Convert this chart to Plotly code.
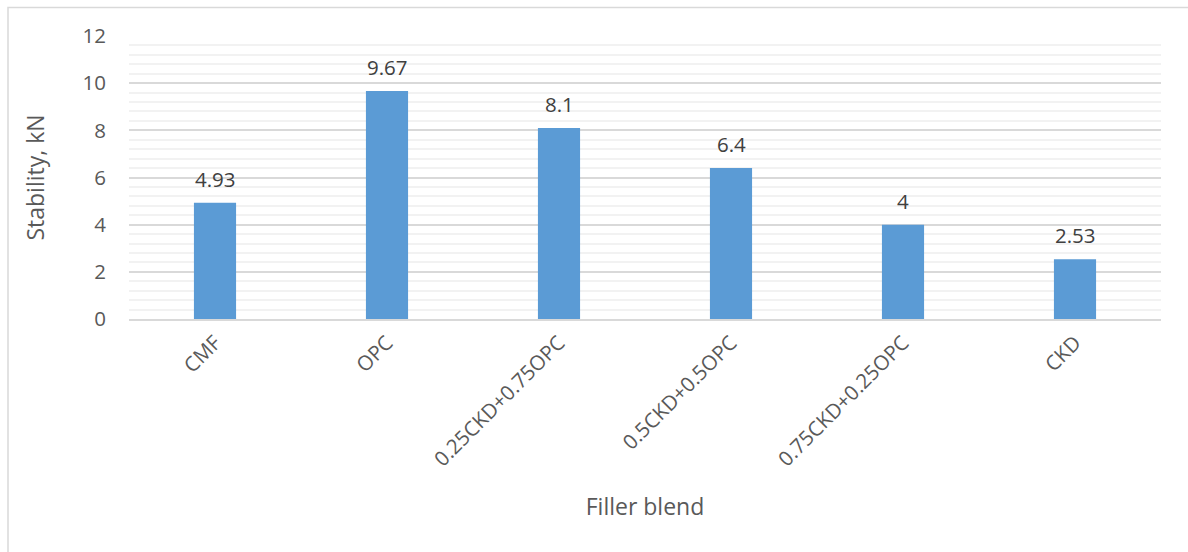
import plotly.graph_objects as go

categories = ["CMF", "OPC", "0.25CKD+0.75OPC", "0.5CKD+0.5OPC", "0.75CKD+0.25OPC", "CKD"]
stability = [4.93, 9.67, 8.1, 6.4, 4, 2.53]
value_labels = ["4.93", "9.67", "8.1", "6.4", "4", "2.53"]

FONT = "Open Sans"
TEXT = "#595959"
SIZE = 20.5
TITLE_SIZE = 23

fig = go.Figure(
    go.Bar(
        x=categories,
        y=stability,
        marker=dict(color="#5B9BD5", line=dict(width=0)),
        width=0.245,
    )
)

# value labels above each bar
for cat, val, lab in zip(categories, stability, value_labels):
    fig.add_annotation(
        x=cat, y=val, text=lab, showarrow=False,
        yanchor="bottom", yshift=8,
        font=dict(family=FONT, size=SIZE, color="#404040"),
    )

fig.update_layout(
    width=1188,
    height=552,
    margin=dict(l=129, r=27, t=36, b=233),
    paper_bgcolor="white",
    plot_bgcolor="white",
    showlegend=False,
    font=dict(family=FONT, color=TEXT),
)

fig.update_xaxes(
    tickangle=-45,
    tickfont=dict(family=FONT, size=SIZE, color=TEXT),
    showgrid=False,
    showline=True,
    linecolor="#D9D9D9",
    linewidth=1.5,
    ticks="",
    ticklabelstandoff=2,
    title=dict(text="Filler blend", font=dict(family=FONT, size=TITLE_SIZE, color=TEXT), standoff=28),
)

fig.update_yaxes(
    range=[0, 12],
    dtick=2,
    tickfont=dict(family=FONT, size=SIZE, color=TEXT),
    showgrid=True,
    gridcolor="#D9D9D9",
    gridwidth=1.5,
    zeroline=False,
    showline=False,
    ticks="",
    ticklabelstandoff=22,
    minor=dict(dtick=0.4, showgrid=True, gridcolor="#F2F2F2", gridwidth=1.5),
    title=dict(text="Stability, kN", font=dict(family=FONT, size=TITLE_SIZE, color=TEXT), standoff=31),
)

# chart frame
fig.add_shape(
    type="rect", xref="paper", yref="paper",
    x0=(8 - 129) / 1032, x1=(1192 - 129) / 1032,
    y0=(319 - 556) / 283, y1=1 + (36 - 7.5) / 283,
    line=dict(color="#D9D9D9", width=1.5), fillcolor="rgba(0,0,0,0)", layer="below",
)

fig.write_html("out.html")
